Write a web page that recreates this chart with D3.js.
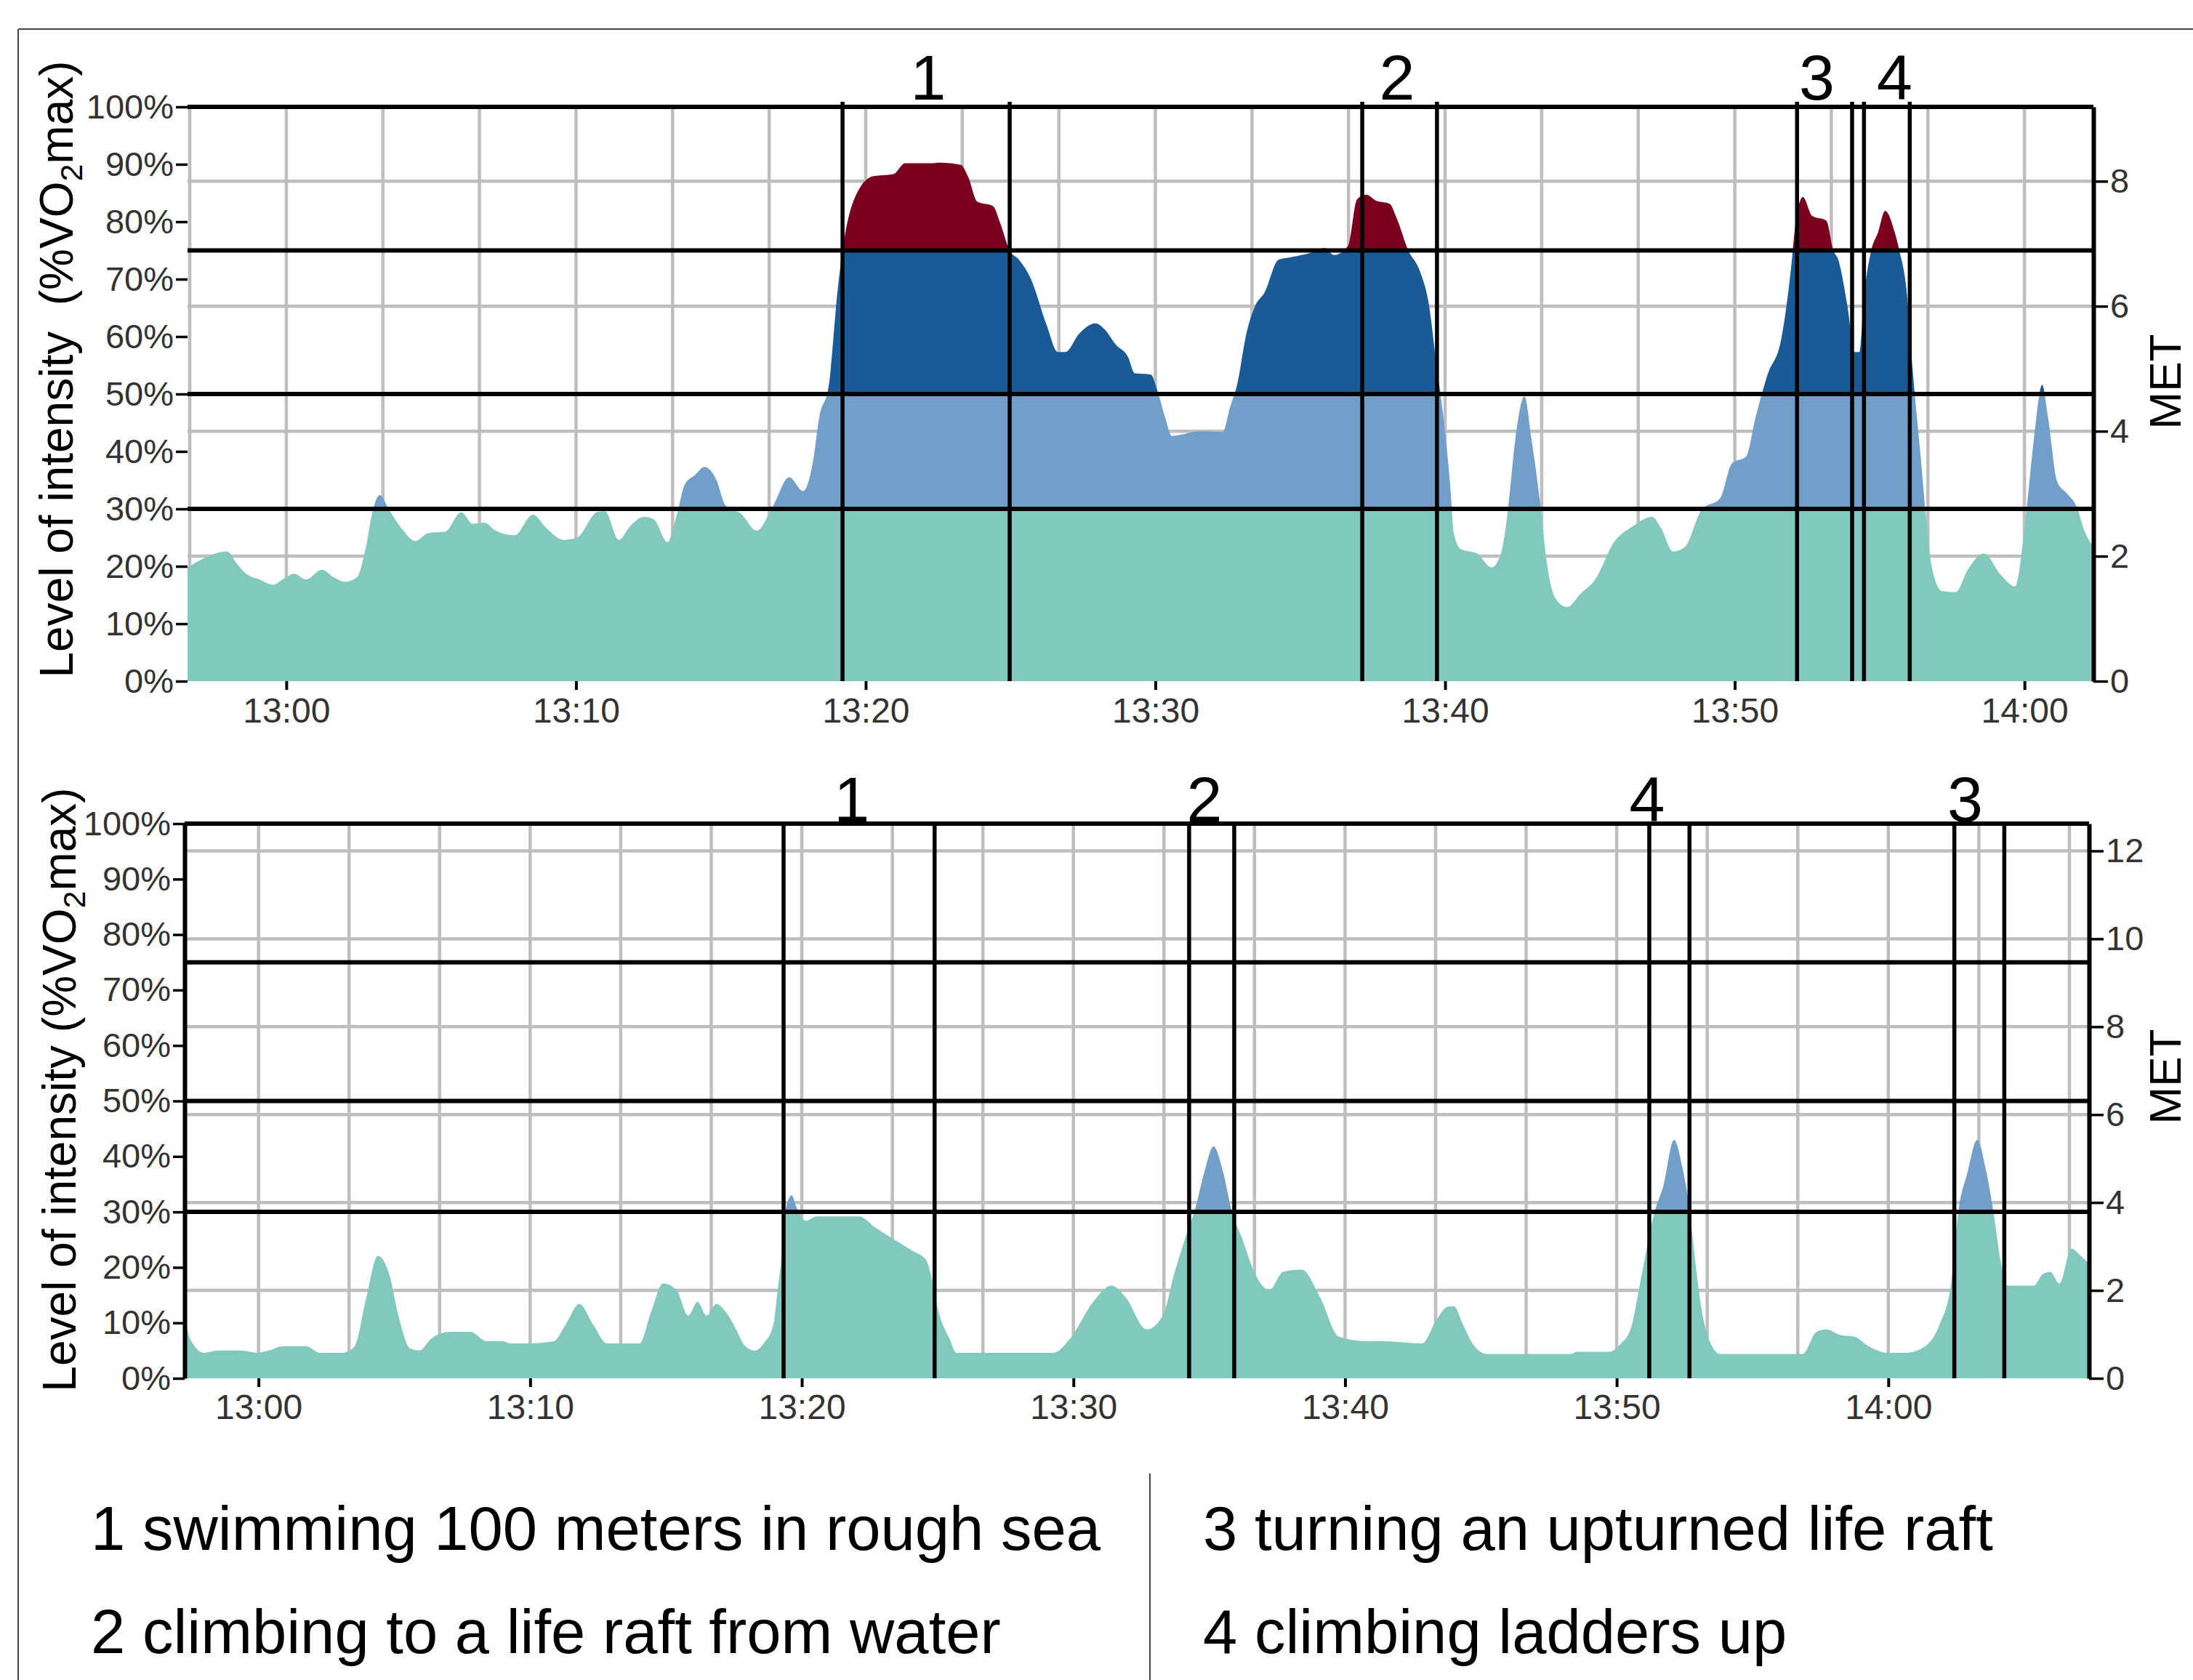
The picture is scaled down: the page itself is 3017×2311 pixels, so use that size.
<!DOCTYPE html>
<html>
<head>
<meta charset="utf-8">
<script src="https://cdn.jsdelivr.net/npm/d3@7"></script>
<style>
html,body{margin:0;padding:0;background:#fff;}
svg{display:block;font-family:"Liberation Sans",Arial,Helvetica,sans-serif;}
</style>
</head>
<body>
<svg id="chart" width="3017" height="2311"></svg>
<script>
// ---------------- DATA ----------------
// Minutes after 13:00 and measured intensity (% VO2max), upper panel
const topMinutes = [-3.41,-2.84,-2.05,-1.73,-1.41,-0.92,-0.45,-0.13,0.27,0.68,1.23,1.63,2.03,2.44,2.75,2.99,3.23,3.55,4.04,4.44,4.91,5.47,6.04,6.43,6.83,7.23,7.88,8.51,8.99,9.56,10.03,10.75,11.00,11.48,11.87,12.35,12.68,13.16,13.48,13.76,14.11,14.44,14.84,15.16,15.68,16.24,16.81,17.36,17.84,18.17,18.40,18.73,19.04,19.20,19.60,20.25,20.96,21.36,22.25,22.56,23.28,23.53,23.85,24.40,24.64,24.97,25.29,25.69,26.24,26.64,26.89,27.37,27.93,28.24,28.65,29.05,29.29,29.84,30.08,30.33,30.57,31.53,32.33,32.57,32.82,33.14,33.44,33.77,34.25,34.65,35.36,35.84,36.17,36.65,36.96,37.28,37.60,38.09,38.33,38.73,39.13,39.45,39.69,39.94,40.18,40.30,40.54,41.11,41.60,41.93,42.17,42.42,42.74,42.99,43.31,43.48,43.80,44.21,44.69,45.18,45.83,46.49,47.14,47.46,47.87,48.28,48.85,49.50,49.90,50.39,50.72,51.12,51.61,51.94,52.10,52.35,52.67,53.16,53.40,53.57,53.89,54.14,54.30,54.46,54.71,54.95,55.19,55.52,55.68,55.92,56.17,56.41,56.58,56.82,57.15,57.63,58.04,58.61,59.18,59.67,60.07,60.32,60.61,60.81,61.13,61.46,61.78,62.10,62.38];
const topIntensity = [19.8,21.4,22.6,20.6,18.8,17.7,16.8,17.7,18.7,17.7,19.4,18.1,17.3,18.1,23.4,29.8,32.4,29.8,26.2,24.4,25.8,26.0,29.4,27.4,27.6,26.2,25.4,29.0,26.6,24.6,25.0,29.5,29.6,24.6,27.0,28.6,28.2,24.2,29.0,34.3,35.9,37.3,35.1,30.6,29.2,26.2,30.6,35.5,33.1,37.9,46,51.6,68.5,75,83.9,87.9,88.3,90.2,90.2,90.3,89.9,87.9,83.5,82.7,79.8,75,73.4,70.2,62.1,57.3,57.3,60.5,62.3,61.3,58.5,56.5,53.6,53.4,50.4,46,42.7,43.5,43.4,47.6,51.6,60.5,65.3,67.7,73.4,73.8,74.6,75.4,74.2,75.8,83.9,84.7,83.7,83.1,80.6,75,71.4,65.3,55.6,46,33.9,25.8,23,22.2,19.8,22.2,29.8,41.9,49.6,41.9,29.8,21.8,14.5,12.9,15.3,17.7,24.2,27,28.6,26.6,22.6,23.4,29.8,31.9,37.9,39.1,46,53.2,59.7,71.8,79.8,84.3,81,80.2,75,73.4,65.3,57.3,57.3,66.9,75,78.2,81.9,78.2,75,68.5,52.4,39.5,29.8,19.4,15.7,15.5,19.4,22.2,18.5,16.5,29.8,41.9,51.6,46,34.7,32.7,30.6,25.8,23.4];

// Lower panel
const bottomMinutes = [-2.72,-2.52,-2.01,-1.49,-0.65,-0.05,0.38,0.89,1.75,2.25,3.11,3.54,3.97,4.39,4.81,5.15,5.58,5.93,6.35,7.04,7.80,8.40,9.00,9.26,9.93,10.87,11.30,11.81,12.33,12.83,14.03,14.46,14.89,15.39,15.82,16.16,16.50,16.85,17.24,17.50,17.92,18.26,18.60,18.95,19.12,19.26,19.38,19.63,19.80,20.14,20.56,22.11,22.70,23.38,24.07,24.58,24.75,25.01,25.44,25.69,27.48,29.27,29.87,30.73,31.40,31.92,32.69,33.29,33.71,34.13,34.48,34.82,35.16,35.51,35.85,36.19,36.69,37.21,37.72,38.41,39.08,39.77,40.79,41.39,42.84,43.35,43.78,44.00,44.35,44.69,45.21,46.60,48.34,48.51,49.73,50.16,50.51,50.86,51.12,51.38,51.72,52.11,52.42,52.68,52.85,53.11,53.46,53.81,56.84,57.36,57.71,58.23,58.75,59.27,59.97,60.66,61.36,61.88,62.31,62.57,62.92,63.27,63.61,63.88,64.13,64.39,65.35,65.69,65.96,66.30,66.74,67.08,67.43];
const bottomIntensity = [11.7,7.1,4.6,5.0,5.0,4.6,5.0,5.8,5.8,4.6,4.6,5.8,14.6,22.1,18.8,11.3,5.4,5.0,7.1,8.4,8.4,6.7,6.7,6.3,6.3,6.7,9.6,13.4,9.6,6.3,6.3,12.1,17.1,15.9,11.3,13.8,11.3,13.4,11.7,9.6,5.8,5.0,6.3,9.6,16.3,22.1,29.7,33.0,30.9,28.4,29.2,29.2,27.2,25.1,23,21.3,18.8,12.5,7.1,4.6,4.6,4.6,7.1,13.8,16.7,14.6,8.8,11.3,18.8,25.5,30.5,37.2,41.8,37.2,29.7,25.5,18.8,15.9,19.2,19.6,14.6,7.5,6.7,6.7,6.3,10.4,12.9,13.0,9.6,6.3,4.4,4.4,4.4,4.8,4.8,6.3,8.8,17.1,23.8,29.7,34.7,43,38,30.5,23,12.9,6.3,4.4,4.4,8.4,8.8,7.8,7.5,5.8,4.6,4.6,5.8,9.6,17.1,29.7,37.2,43,37.2,29.7,21.3,16.7,16.7,18.8,19.2,17.1,23.4,22.1,20.5];

// Task events (minutes after 13:00)
const topEventIds = ["1","2","3","4"];
const topEventStart = [19.20, 37.14, 52.15, 54.46];
const topEventEnd = [24.97, 39.72, 54.05, 56.04];
const topEventLabelAt = [22.16, 38.34, 52.83, 55.52];

const bottomEventIds = ["1","2","4","3"];
const bottomEventStart = [19.33, 34.26, 51.20, 62.43];
const bottomEventEnd = [24.89, 35.92, 52.68, 64.27];
const bottomEventLabelAt = [21.84, 34.82, 51.12, 62.83];

// Intensity zones (% VO2max) and their colours
const zoneBreaks = [0, 30, 50, 75, 100];
const zoneColors = ["#81c9bd", "#719fca", "#195a97", "#7b0020"];
const percentTicks = [0,10,20,30,40,50,60,70,80,90,100];
const timeTicks = [0,10,20,30,40,50,60];   // 13:00 ... 14:00
const topMetTicks = [0,2,4,6,8];
const bottomMetTicks = [0,2,4,6,8,10,12];
const topMetMax = 9.19;
const bottomMetMax = 12.62;

const legendLeft = ["1 swimming 100 meters in rough sea", "2 climbing to a life raft from water"];
const legendRight = ["3 turning an upturned life raft", "4 climbing ladders up"];

// ---------------- DRAW ----------------
const base = new Date(2020, 0, 1, 13, 0, 0);
const toDate = m => new Date(base.getTime() + m * 60000);
const svg = d3.select("#chart");
svg.append("rect").attr("width", 3017).attr("height", 2311).attr("fill", "#fff");

let clipId = 0;

function drawPanel(cfg) {
  const x = d3.scaleTime().domain(cfg.domain.map(toDate)).range([cfg.left, cfg.right]);
  const y = d3.scaleLinear().domain([0, 100]).range([cfg.bottom, cfg.top]);
  const met = d3.scaleLinear().domain([0, cfg.metMax]).range([cfg.bottom, cfg.top]);
  const g = svg.append("g");

  // gray grid: vertical every 200 s from 13:00, horizontal at MET ticks
  const gridMins = d3.range(-30, 31).map(k => k * 200 / 60)
    .filter(m => m >= cfg.domain[0] && m <= cfg.domain[1]);
  g.append("g").selectAll("line").data(gridMins).join("line")
    .attr("x1", m => x(toDate(m))).attr("x2", m => x(toDate(m)))
    .attr("y1", cfg.top).attr("y2", cfg.bottom)
    .attr("stroke", "#bebebe").attr("stroke-width", 4.5);
  g.append("g").selectAll("line").data(cfg.metTicks.filter(v => v > 0)).join("line")
    .attr("x1", cfg.left).attr("x2", cfg.right)
    .attr("y1", v => met(v)).attr("y2", v => met(v))
    .attr("stroke", "#bebebe").attr("stroke-width", 4.5);

  // area coloured by intensity zone
  const data = cfg.minutes.map((m, i) => ({ t: toDate(m), v: cfg.values[i] }));
  const area = d3.area().x(d => x(d.t)).y0(y(0)).y1(d => y(d.v)).curve(d3.curveMonotoneX);
  const defs = svg.append("defs");
  for (let z = 0; z < zoneColors.length; z++) {
    const id = "clip" + (clipId++);
    defs.append("clipPath").attr("id", id).append("rect")
      .attr("x", cfg.left).attr("width", cfg.right - cfg.left)
      .attr("y", y(zoneBreaks[z + 1]) - 0.5)
      .attr("height", y(zoneBreaks[z]) - y(zoneBreaks[z + 1]) + 0.5);
    g.append("path").datum(data).attr("d", area)
      .attr("fill", zoneColors[z]).attr("clip-path", `url(#${id})`);
  }

  // black zone threshold lines
  g.append("g").selectAll("line").data(zoneBreaks.slice(1)).join("line")
    .attr("x1", cfg.left).attr("x2", cfg.right)
    .attr("y1", v => y(v)).attr("y2", v => y(v))
    .attr("stroke", "#000").attr("stroke-width", 6);

  // event lines and labels
  const evLines = cfg.evStart.concat(cfg.evEnd);
  g.append("g").selectAll("line").data(evLines).join("line")
    .attr("x1", m => x(toDate(m))).attr("x2", m => x(toDate(m)))
    .attr("y1", cfg.top - cfg.evOvershoot).attr("y2", cfg.bottom)
    .attr("stroke", "#000").attr("stroke-width", 5.5);
  g.append("g").selectAll("text").data(cfg.evIds).join("text")
    .attr("x", (d, i) => x(toDate(cfg.evLabelAt[i])))
    .attr("y", cfg.top - cfg.evLabelGap)
    .attr("text-anchor", "middle").attr("font-size", 88).attr("fill", "#000")
    .text(d => d);

  // left axis (%VO2max)
  const yAxis = d3.axisLeft(y).tickValues(percentTicks).tickFormat(d => d + "%")
    .tickSize(16).tickSizeOuter(0).tickPadding(3);
  const ya = g.append("g").attr("transform", `translate(${cfg.left},0)`).call(yAxis);
  ya.selectAll(".tick line").attr("stroke", "#000").attr("stroke-width", 3.5);
  ya.selectAll(".tick text").attr("font-size", 47).attr("fill", "#333")
    .attr("font-family", "Liberation Sans, Arial, sans-serif");
  if (cfg.leftAxisLine) ya.select(".domain").attr("stroke", "#000").attr("stroke-width", 6);
  else ya.select(".domain").remove();

  // right axis (MET)
  const mAxis = d3.axisRight(met).tickValues(cfg.metTicks).tickSize(20).tickSizeOuter(0).tickPadding(3);
  const ma = g.append("g").attr("transform", `translate(${cfg.right},0)`).call(mAxis);
  ma.selectAll(".tick line").attr("stroke", "#000").attr("stroke-width", 3.5);
  ma.selectAll(".tick text").attr("font-size", 47).attr("fill", "#333")
    .attr("font-family", "Liberation Sans, Arial, sans-serif");
  ma.select(".domain").attr("stroke", "#000").attr("stroke-width", 6);

  // bottom time axis
  const xAxis = d3.axisBottom(x).tickValues(timeTicks.map(toDate))
    .tickFormat(d3.timeFormat("%H:%M")).tickSize(12).tickSizeOuter(0).tickPadding(cfg.xPad);
  const xa = g.append("g").attr("transform", `translate(0,${cfg.bottom})`).call(xAxis);
  xa.select(".domain").remove();
  xa.selectAll(".tick line").attr("stroke", "#000").attr("stroke-width", 4);
  xa.selectAll(".tick text").attr("font-size", 48).attr("fill", "#333")
    .attr("font-family", "Liberation Sans, Arial, sans-serif");

  // axis titles
  const yl = g.append("text")
    .attr("transform", `translate(${cfg.yLabelX},${cfg.yLabelY}) rotate(-90)`)
    .attr("text-anchor", "middle").attr("font-size", 64).attr("fill", "#000")
    .attr("xml:space", "preserve");
  yl.append("tspan").text(cfg.yLabelA);
  yl.append("tspan").attr("font-size", 43).attr("dy", 13).text("2");
  yl.append("tspan").attr("dy", -13).text("max)");

  g.append("text")
    .attr("transform", `translate(${cfg.metLabelX},${cfg.metLabelY}) rotate(-90)`)
    .attr("text-anchor", "middle").attr("font-size", 62).attr("fill", "#000")
    .text("MET");
}

drawPanel({
  left: 258, right: 2880, top: 147, bottom: 937,
  domain: [-3.41, 62.38], metMax: topMetMax, metTicks: topMetTicks,
  minutes: topMinutes, values: topIntensity,
  evIds: topEventIds, evStart: topEventStart, evEnd: topEventEnd, evLabelAt: topEventLabelAt,
  evOvershoot: 7, evLabelGap: 10, leftAxisLine: false, xPad: 11,
  yLabelX: 100, yLabelY: 508, yLabelA: "Level of intensity  (%VO",
  metLabelX: 3000, metLabelY: 525
});
drawPanel({
  left: 254, right: 2874, top: 1133, bottom: 1896,
  domain: [-2.72, 67.39], metMax: bottomMetMax, metTicks: bottomMetTicks,
  minutes: bottomMinutes, values: bottomIntensity,
  evIds: bottomEventIds, evStart: bottomEventStart, evEnd: bottomEventEnd, evLabelAt: bottomEventLabelAt,
  evOvershoot: 0, evLabelGap: 3, leftAxisLine: true, xPad: 10,
  yLabelX: 104, yLabelY: 1499, yLabelA: "Level of intensity (%VO",
  metLabelX: 3000, metLabelY: 1481
});

// outer frame and legend
svg.append("line").attr("x1", 25).attr("x2", 3017).attr("y1", 40).attr("y2", 40)
  .attr("stroke", "#444").attr("stroke-width", 2);
svg.append("line").attr("x1", 25).attr("x2", 25).attr("y1", 40).attr("y2", 2311)
  .attr("stroke", "#444").attr("stroke-width", 2);
svg.append("line").attr("x1", 1582).attr("x2", 1582).attr("y1", 2027).attr("y2", 2311)
  .attr("stroke", "#444").attr("stroke-width", 2);

const legendRows = [2132, 2274];
svg.append("g").selectAll("text").data(legendLeft).join("text")
  .attr("x", 125).attr("y", (d, i) => legendRows[i])
  .attr("font-size", 85).attr("fill", "#000").text(d => d);
svg.append("g").selectAll("text").data(legendRight).join("text")
  .attr("x", 1655).attr("y", (d, i) => legendRows[i])
  .attr("font-size", 85).attr("fill", "#000").text(d => d);
</script>
</body>
</html>
